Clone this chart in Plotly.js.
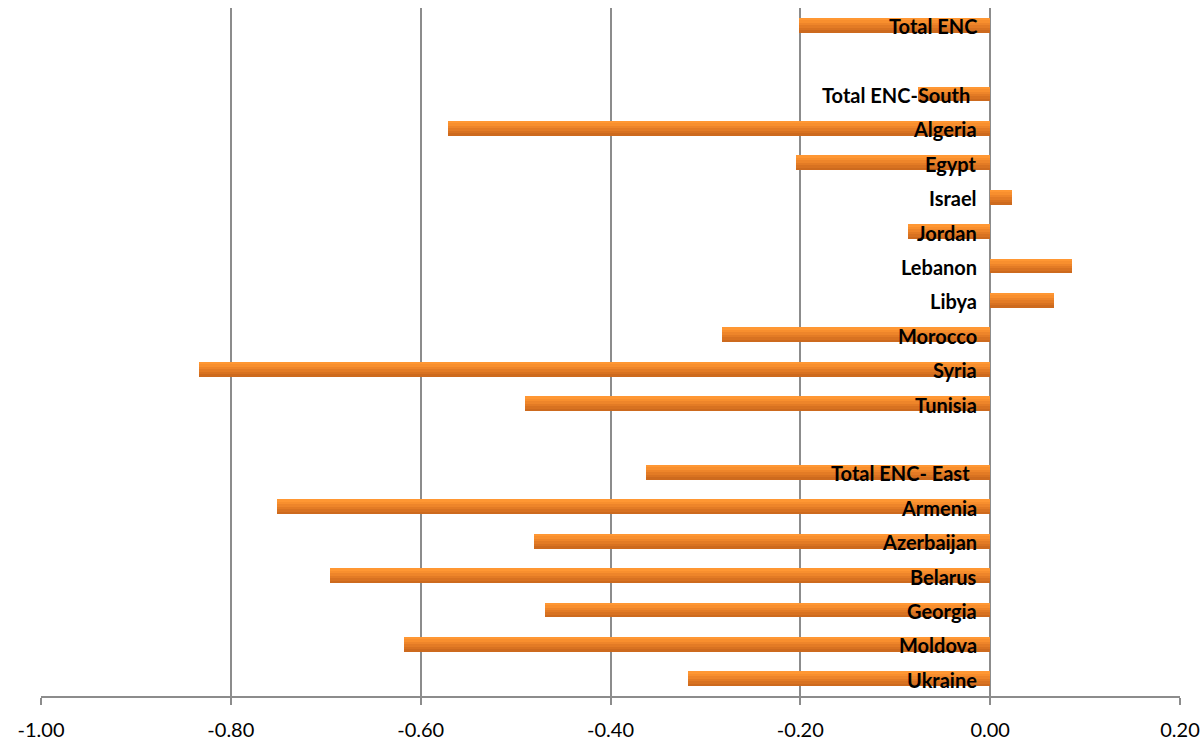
<!DOCTYPE html>
<html>
<head>
<meta charset="utf-8">
<script src="https://cdn.plot.ly/plotly-3.0.1.min.js"></script>
<style>
  html, body { margin: 0; padding: 0; background: #ffffff; }
  #chart { width: 1204px; height: 740px; }
</style>
</head>
<body>
<div id="chart"></div>
<script>
// Rows from top to bottom; empty strings are spacer rows between groups.
const countries = [
  'Total ENC', '',
  'Total ENC-South', 'Algeria', 'Egypt', 'Israel', 'Jordan', 'Lebanon', 'Libya',
  'Morocco', 'Syria', 'Tunisia', '',
  'Total ENC- East', 'Armenia', 'Azerbaijan', 'Belarus', 'Georgia', 'Moldova', 'Ukraine'
];
const values = [
  -0.201, null,
  -0.076, -0.571, -0.205, 0.023, -0.087, 0.086, 0.067,
  -0.283, -0.834, -0.490, null,
  -0.363, -0.751, -0.481, -0.696, -0.469, -0.618, -0.318
];
const xTickVals = [-1.0, -0.8, -0.6, -0.4, -0.2, 0.0, 0.2];
const xTickText = xTickVals.map(v => v.toFixed(2));

const rowIndex = countries.map((_, i) => i);

// Bars are built from horizontal bands to give a top-to-bottom shading.
const barWidth = 0.43;
const bandColors = ['#ff9733', '#f88f2e', '#ee852a', '#e37b25', '#d87221', '#cd6a1e'];
const bandH = barWidth / bandColors.length;
const traces = bandColors.map((c, k) => ({
  type: 'bar',
  orientation: 'h',
  x: values,
  y: rowIndex,
  width: bandH + (k < bandColors.length - 1 ? 0.012 : 0),
  offset: -barWidth / 2 + k * bandH,
  marker: { color: c, line: { width: 0 } },
  hoverinfo: 'skip',
  showlegend: false
}));

// Row labels sit just left of the zero line, over the bars.
const labelShift = { 'Total ENC-South': -7, 'Total ENC- East': -7 };
const annotations = countries
  .map((name, i) => ({ name, i }))
  .filter(d => d.name !== '')
  .map(d => ({
    x: 0, y: d.i, xref: 'x', yref: 'y',
    text: '<b>' + d.name + '</b>',
    showarrow: false,
    xanchor: 'right', yanchor: 'middle',
    xshift: -11 + (labelShift[d.name] || 0),
    yshift: -1,
    font: { family: 'Lato, sans-serif', size: 20, color: '#000000' }
  }));

const layout = {
  width: 1204, height: 740,
  margin: { l: 41, r: 24, t: 8, b: 44 },
  paper_bgcolor: '#ffffff', plot_bgcolor: '#ffffff',
  barmode: 'overlay',
  bargap: 0,
  showlegend: false,
  xaxis: {
    range: [-1.0, 0.2],
    tickvals: xTickVals,
    ticktext: xTickText,
    showgrid: true, gridcolor: '#8c8c8c', gridwidth: 2,
    zeroline: false,
    showline: true, linecolor: '#8c8c8c', linewidth: 2,
    ticks: 'outside', ticklen: 7, tickwidth: 2, tickcolor: '#8c8c8c',
    ticklabelstandoff: 8,
    tickfont: { family: 'Lato, sans-serif', size: 20, color: '#000000' },
    fixedrange: true
  },
  yaxis: {
    type: 'linear',
    range: [countries.length - 0.5, -0.5],
    showgrid: false, zeroline: false, showline: false,
    showticklabels: false, ticks: '',
    fixedrange: true
  },
  annotations: annotations
};

Plotly.newPlot('chart', traces, layout, { displayModeBar: false, staticPlot: true });
</script>
</body>
</html>
